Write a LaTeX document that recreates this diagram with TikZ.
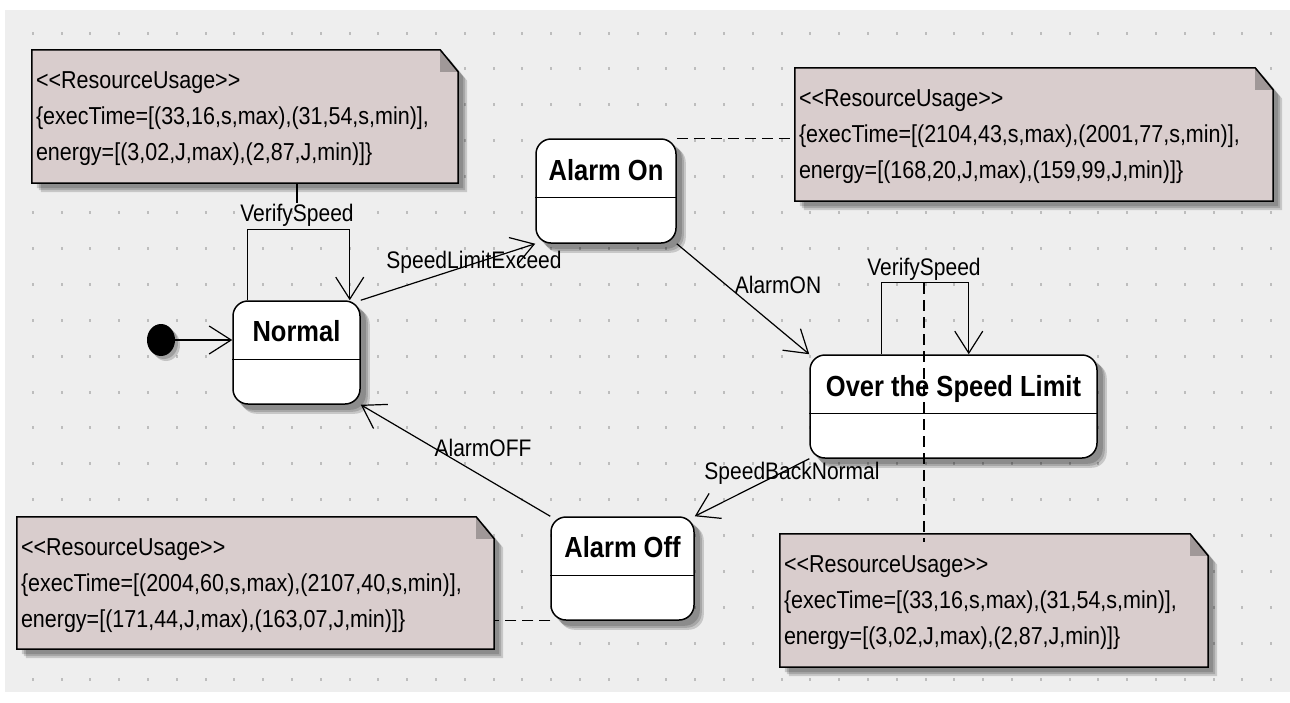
\documentclass[tikz,border=0pt]{standalone}
\usepackage{fontspec}
\usepackage{graphicx}
\newfontfamily\uifont{Liberation Sans}
\usetikzlibrary{arrows.meta,shapes.geometric}
\definecolor{canvas}{HTML}{EEEEEE}
\definecolor{griddot}{HTML}{BDBDBD}
\definecolor{notefill}{HTML}{D9CDCD}
\definecolor{notefold}{HTML}{A09898}
\newcommand{\vstr}[1]{\scalebox{1}[1.14]{#1}}
\pgfdeclarelayer{bg}
\pgfdeclarelayer{shadowlayer}
\pgfdeclarelayer{notelayer}
\pgfsetlayers{bg,shadowlayer,notelayer,main}
\begin{document}
\begin{tikzpicture}[x=1pt,y=-1pt,
  state/.style={draw=black, line width=1.5pt, fill=white, rounded corners=15pt, inner sep=0pt},
  divider/.style={draw=black, line width=1.5pt},
  title/.style={font=\uifont\fontsize{25.5}{30}\selectfont\bfseries, inner sep=0pt, anchor=base},
  note/.style={inner xsep=4pt, inner ysep=0pt, align=left, font=\uifont\fontsize{21.5}{36}\selectfont},
  lbl/.style={font=\uifont\fontsize{21}{25}\selectfont, inner sep=0pt, anchor=base},
  trans/.style={draw=black, line width=1.2pt, -{Straight Barb[length=22pt,width=28pt]}},
  notelink/.style={draw=black, line width=1.4pt, dash pattern=on 11pt off 6pt},
  notebord/.style={draw=black, line width=1.5pt},
  initst/.style={ellipse, fill=black, minimum width=28pt, minimum height=32pt, inner sep=0pt},
  notepath/.style 2 args={insert path={([shift={(#2)}]#1.north west) -- ([shift={(#2)},xshift=-18pt]#1.north east) -- ([shift={(#2)},yshift=-22pt]#1.north east) -- ([shift={(#2)}]#1.south east) -- ([shift={(#2)}]#1.south west) -- cycle}}
]
\useasboundingbox (0,0) rectangle (1290,702);
\begin{pgfonlayer}{bg}
  \fill[white] (0,0) rectangle (1290,702);
  \fill[canvas] (5,10) rectangle (1290,692);
  \foreach \i in {0,...,43} \foreach \j in {0,...,18}
    \fill[griddot] ({31.8+28.8*\i},{31.5+35.9*\j}) rectangle ++(2,3);
\end{pgfonlayer}

% states
\node[state, minimum width=127pt, minimum height=103pt] (normal) at (296.5,352.5) {};
\node[state, minimum width=140pt, minimum height=104pt] (alarmon) at (606,191) {};
\node[state, minimum width=287pt, minimum height=103pt] (osl) at (953.5,406.5) {};
\node[state, minimum width=143pt, minimum height=103pt] (alarmoff) at (622.5,568.5) {};
\node[title] (normalT) at ([yshift=-41pt]normal.north) {\vstr{Normal}};
\node[title] (alarmonT) at ([yshift=-42pt]alarmon.north) {\vstr{Alarm On}};
\node[title] (oslT) at ([yshift=-42pt]osl.north) {\vstr{Over the Speed Limit}};
\node[title] (alarmoffT) at ([yshift=-41pt]alarmoff.north) {\vstr{Alarm Off}};
\foreach \n in {normal,alarmon,osl,alarmoff}
  \draw[divider] ([yshift=-59pt]\n.north west) -- ([yshift=-59pt]\n.north east);

\node[initst] (init) at (161,340) {};

% notes
\node[note, minimum width=426pt, minimum height=133pt, text width=418pt] (note1) at (245,116.5)
  {\rule{0pt}{22pt}\vstr{<<ResourceUsage>>}\\\vstr{\{execTime=[(33,16,s,max),(31,54,s,min)],}\\\vstr{energy=[(3,02,J,max),(2,87,J,min)]\}}\rule[-5pt]{0pt}{5pt}};
\node[note, minimum width=478pt, minimum height=133pt, text width=470pt] (note2) at (1034,134.5)
  {\rule{0pt}{22pt}\vstr{<<ResourceUsage>>}\\\vstr{\{execTime=[(2104,43,s,max),(2001,77,s,min)],}\\\vstr{energy=[(168,20,J,max),(159,99,J,min)]\}}\rule[-5pt]{0pt}{5pt}};
\node[note, minimum width=477pt, minimum height=132pt, text width=469pt] (note3) at (255.5,583)
  {\rule{0pt}{22pt}\vstr{<<ResourceUsage>>}\\\vstr{\{execTime=[(2004,60,s,max),(2107,40,s,min)],}\\\vstr{energy=[(171,44,J,max),(163,07,J,min)]\}}\rule[-5pt]{0pt}{5pt}};
\node[note, minimum width=428pt, minimum height=133pt, text width=420pt] (note4) at (994,600.5)
  {\rule{0pt}{22pt}\vstr{<<ResourceUsage>>}\\\vstr{\{execTime=[(33,16,s,max),(31,54,s,min)],}\\\vstr{energy=[(3,02,J,max),(2,87,J,min)]\}}\rule[-5pt]{0pt}{5pt}};

\begin{pgfonlayer}{notelayer}
  \foreach \n in {note1,note2,note3,note4} {
    \fill[notefill] [notepath={\n}{0pt,0pt}];
    \fill[notefold] ([xshift=-18pt]\n.north east) -- ([xshift=-18pt,yshift=-22pt]\n.north east) -- ([yshift=-22pt]\n.north east) -- cycle;
    \draw[notebord] [notepath={\n}{0pt,0pt}];
  }
\end{pgfonlayer}

\begin{pgfonlayer}{shadowlayer}
  \foreach \n in {normal,alarmon,osl,alarmoff} \foreach \o in {5pt,7pt,9pt}
    \fill[black, opacity=0.16, rounded corners=15pt] ([shift={(\o,-\o)}]\n.north west) rectangle ([shift={(\o,-\o)}]\n.south east);
  \foreach \n in {note1,note2,note3,note4} \foreach \o in {5pt,7pt,9pt}
    \fill[black, opacity=0.16] [notepath={\n}{\o,-\o}];
  \foreach \o in {3pt,5pt}
    \fill[black, opacity=0.18] ([shift={(\o,-\o)}]init.center) ellipse [x radius=14pt, y radius=16pt];
\end{pgfonlayer}

% labels
\node[lbl] (vs1) at (297,221) {\vstr{VerifySpeed}};
\node[lbl] (sle) at (474,268) {\vstr{SpeedLimitExceed}};
\node[lbl] (aon) at (778,293) {\vstr{AlarmON}};
\node[lbl] (vs2) at (924,275) {\vstr{VerifySpeed}};
\node[lbl] (sbn) at (792,479) {\vstr{SpeedBackNormal}};
\node[lbl] (aoff) at (483,456) {\vstr{AlarmOFF}};

% transitions
\draw[trans] (init) -- (init -| normal.west);
\draw[trans] ([xshift=15pt]normal.north west) -- ++(0,-71) -| ([xshift=-11pt]normal.north east);
\draw[trans] ([xshift=72pt]osl.north west) -- ++(0,-72) -| ([xshift=-129pt]osl.north east);
\draw[trans] (normal.north east) -- (alarmon.south west);
\draw[trans] (alarmon.south east) -- (osl.north west);
\draw[trans] (osl.south west) -- (alarmoff.north east);
\draw[trans] (alarmoff.north west) -- (normal.south east);

% note links
\draw[notebord, line width=1.3pt] (vs1.north |- note1.south) -- (vs1.north);
\draw[notelink] (alarmon.north east) -- (alarmon.north east -| note2.west);
\draw[notelink] (alarmoff.south west) -- (alarmoff.south west -| note3.east);
\draw[notelink] ([yshift=-8pt]vs2.base) -- ([yshift=-8pt]vs2.base |- note4.north);
\end{tikzpicture}
\end{document}
